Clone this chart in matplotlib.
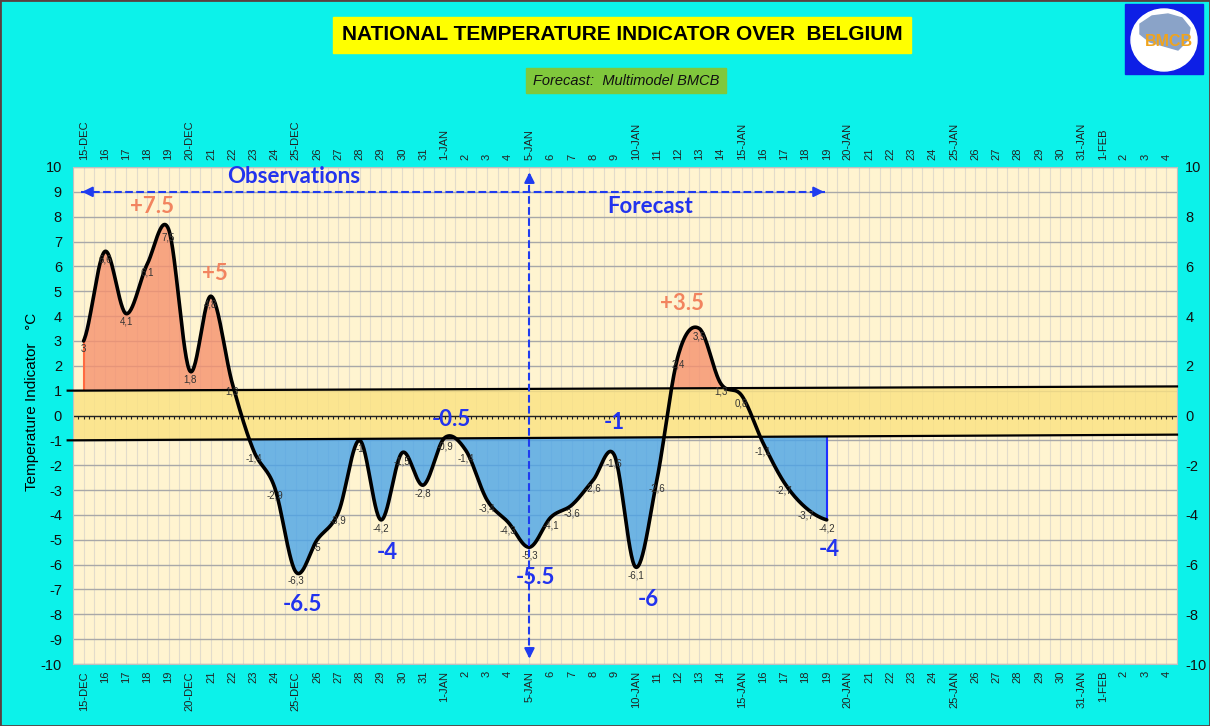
import numpy as np
import matplotlib
matplotlib.use("Agg")
import matplotlib.pyplot as plt
from matplotlib.patches import Rectangle, Ellipse, Polygon

# category labels, 15 Dec -> 4 Feb
day_labels = [
    "15-DEC", "16", "17", "18", "19", "20-DEC", "21", "22", "23", "24", "25-DEC",
    "26", "27", "28", "29", "30", "31",
    "1-JAN", "2", "3", "4", "5-JAN", "6", "7", "8", "9", "10-JAN", "11", "12", "13",
    "14", "15-JAN", "16", "17", "18", "19", "20-JAN", "21", "22", "23", "24", "25-JAN",
    "26", "27", "28", "29", "30", "31-JAN",
    "1-FEB", "2", "3", "4",
]

# daily national temperature indicator (15 Dec -> 19 Jan)
temps = [3.0, 6.6, 4.1, 6.1, 7.5, 1.8, 4.8, 1.3, -1.4, -2.9, -6.3, -5.0, -3.9,
         -1.0, -4.2, -1.5, -2.8,
         -0.9, -1.4, -3.4, -4.3, -5.3, -4.1, -3.6, -2.6, -1.6, -6.1, -2.6, 2.4,
         3.5, 1.3, 0.8, -1.1, -2.7, -3.7, -4.2]

# normal band limits at the left and right edge of the chart
band_upper = [1.0, 1.17]
band_lower = [-1.0, -0.77]

# extremes written on the chart
warm_texts = ["+7.5", "+5", "+3.5"]
cold_texts = ["-6.5", "-4", "-0.5", "-5.5", "-1", "-6", "-4"]
forecast_start = 21  # index of 5-JAN

# layout for the extremes (x in categories, y in degrees)
warm_pos = [(3.2, 8.4), (6.2, 5.7), (28.2, 4.5)]
cold_pos = [(10.3, -7.6), (14.3, -5.5), (17.3, -0.15), (21.3, -6.5),
            (25.0, -0.3), (26.6, -7.4), (35.1, -5.4)]

BG = "#0cf2ea"
CREAM = "#fff4d0"
ORANGE = "#f6916e"
BLUE_FILL = "#4aa4e9"
YELLOW = "#fbe281"
TXT_BLUE = "#2233ee"
TXT_ORANGE = "#f2845f"


def catmull_rom(y, n=30):
    y = np.asarray(y, dtype=float)
    yp = np.concatenate([[y[0]], y, [y[-1]]])
    xs, ys = [], []
    t = np.linspace(0, 1, n, endpoint=False)
    for i in range(len(y) - 1):
        p0, p1, p2, p3 = yp[i], yp[i + 1], yp[i + 2], yp[i + 3]
        seg = 0.5 * (2 * p1 + (-p0 + p2) * t
                     + (2 * p0 - 5 * p1 + 4 * p2 - p3) * t ** 2
                     + (-p0 + 3 * p1 - 3 * p2 + p3) * t ** 3)
        xs.append(i + t)
        ys.append(seg)
    xs.append([len(y) - 1])
    ys.append([y[-1]])
    return np.concatenate(xs), np.concatenate(ys)


def main():
    plt.rcParams["font.family"] = ["Liberation Sans", "DejaVu Sans"]
    plt.rcParams["axes.unicode_minus"] = False
    n = len(day_labels)
    x0, x1 = -0.5, n - 0.5

    fig = plt.figure(figsize=(12.1, 7.26), dpi=100, facecolor=BG)
    ax = fig.add_axes([73 / 1210, 62 / 726, 1104 / 1210, 497 / 726])
    ax.set_facecolor(CREAM)
    ax.set_xlim(x0, x1)
    ax.set_ylim(-10, 10)

    # grid
    ax.set_xticks(range(n))
    ax.set_xticklabels(day_labels)
    ax.set_xticks(np.arange(x0, x1 + 0.01, 0.5), minor=True)
    ax.set_yticks(range(-10, 11))
    ax.grid(axis="x", which="both", color="#e2dccb", lw=0.8)
    ax.grid(axis="y", which="major", color="#a8a8a8", lw=1.0)
    ax.set_axisbelow(True)
    ax.tick_params(axis="both", which="both", length=0)
    ax.tick_params(axis="x", which="major", labeltop=True, labelbottom=True,
                   labelrotation=90, labelsize=8, pad=5, colors="#222222")
    ax.tick_params(axis="y", labelsize=10.5, pad=8, colors="#111111")
    for sp in ax.spines.values():
        sp.set_color("#c0c0c0")
    ax.set_ylabel("Temperature Indicator   °C", fontsize=11)
    ax.yaxis.set_label_coords(-0.031, 0.527)

    ax2 = ax.twinx()
    ax2.set_ylim(-10, 10)
    ax2.set_yticks(range(-10, 11, 2))
    ax2.tick_params(length=0, labelsize=10.5, pad=6, colors="#111111")
    for sp in ax2.spines.values():
        sp.set_visible(False)

    # normal band
    bx = np.array([x0, x1])
    ax.fill_between(bx, band_lower, band_upper, color=YELLOW, alpha=0.8, lw=0, zorder=1)
    ax.plot([-0.75, x1], [band_upper[0], band_upper[1]], color="black", lw=1.6,
            zorder=3, clip_on=False)
    ax.plot([-0.75, x1], [band_lower[0], band_lower[1]], color="black", lw=1.6,
            zorder=3, clip_on=False)

    # zero axis with small ticks
    ax.axhline(0, color="#222222", lw=1.0, zorder=2)
    ax.vlines(np.arange(x0, x1, 0.25), -0.13, 0, color="#222222", lw=0.8, zorder=2)

    # curve and anomaly fills
    cx, cy = catmull_rom(temps)
    up = np.interp(cx, bx, band_upper)
    lo = np.interp(cx, bx, band_lower)
    ax.fill_between(cx, cy, up, where=cy > up, interpolate=True, color=ORANGE,
                    alpha=0.8, lw=0, zorder=1.5)
    ax.fill_between(cx, cy, lo, where=cy < lo, interpolate=True, color=BLUE_FILL,
                    alpha=0.8, lw=0, zorder=1.5)
    ax.vlines(0, band_upper[0], temps[0], color="#ff6a40", lw=1.5, zorder=2)
    last = len(temps) - 1
    ax.vlines(last, temps[-1], np.interp(last, bx, band_lower), color="#2030ff",
              lw=1.5, zorder=2)
    ax.plot(cx, cy, color="black", lw=2.6, zorder=4, solid_capstyle="round")

    for i, v in enumerate(temps):
        ax.annotate(f"{v:g}".replace(".", ","), (i, v), xytext=(0, -6),
                    textcoords="offset points", ha="center", va="center",
                    fontsize=7, color="#333333", zorder=5)

    big = dict(fontsize=16, fontweight="bold", ha="center", va="center",
               family=["Lato", "DejaVu Sans"], zorder=6)
    for t, (px, py) in zip(warm_texts, warm_pos):
        ax.text(px, py, t, color=TXT_ORANGE, **big)
    for t, (px, py) in zip(cold_texts, cold_pos):
        ax.text(px, py, t, color=TXT_BLUE, **big)
    ax.text(9.9, 9.6, "Observations", color=TXT_BLUE, **big)
    ax.text(26.7, 8.4, "Forecast", color=TXT_BLUE, **big)

    # observation / forecast arrows
    ax.plot([-0.1, last - 0.1], [9, 9], color="#1f3cf0", lw=1.5, ls="--", zorder=6)
    for xa, xb in [(0.3, -0.2), (last - 0.5, last)]:
        ax.annotate("", xy=(xb, 9), xytext=(xa, 9),
                    arrowprops=dict(arrowstyle="-|>,head_length=0.6,head_width=0.3",
                                    color="#1f3cf0", lw=1.5), zorder=6)
    ax.plot([forecast_start, forecast_start], [9.7, -9.7], color="#1f3cf0", lw=1.5,
            ls="--", zorder=6)
    for ya, yb in [(9.4, 9.9), (-9.4, -9.9)]:
        ax.annotate("", xy=(forecast_start, yb), xytext=(forecast_start, ya),
                    arrowprops=dict(arrowstyle="-|>,head_length=0.6,head_width=0.3",
                                    color="#1f3cf0", lw=1.5), zorder=6)

    # title boxes
    fig.patches.append(Rectangle((333 / 1210, 1 - 53 / 726), 578 / 1210, 36 / 726,
                                 transform=fig.transFigure, color="#ffff00", zorder=0))
    fig.text(622 / 1210, 1 - 35 / 726, "NATIONAL TEMPERATURE INDICATOR OVER  BELGIUM",
             ha="center", va="center", fontsize=15, fontweight="bold", color="black")
    fig.patches.append(Rectangle((526 / 1210, 1 - 93 / 726), 200 / 1210, 25 / 726,
                                 transform=fig.transFigure, color="#80c83c", zorder=0))
    fig.text(626 / 1210, 1 - 81 / 726, "Forecast:  Multimodel BMCB", ha="center",
             va="center", fontsize=10.5, style="italic", color="#111111")

    # logo
    fig.patches.append(Rectangle((1125 / 1210, 1 - 74 / 726), 78 / 1210, 70 / 726,
                                 transform=fig.transFigure, color="#0d1fe6"))
    fig.patches.append(Ellipse((1164 / 1210, 1 - 40 / 726), 66 / 1210, 62 / 726,
                               transform=fig.transFigure, color="white"))
    blob = [(1140, 24), (1152, 16), (1168, 14), (1182, 18), (1190, 28), (1188, 40),
            (1178, 50), (1164, 46), (1150, 42), (1140, 34)]
    fig.patches.append(Polygon([(bx_ / 1210, 1 - by_ / 726) for bx_, by_ in blob],
                               transform=fig.transFigure, color="#8aa3c8"))
    fig.text(1169 / 1210, 1 - 41 / 726, "BMCB", ha="center", va="center",
             fontsize=11.5, fontweight="bold", color="#f0a41c")

    fig.patches.append(Rectangle((0, 0), 1, 1, transform=fig.transFigure, fill=False,
                                 edgecolor="#5a4040", lw=2))

    fig.savefig("out.png", dpi=100, facecolor=BG)


if __name__ == "__main__":
    main()
